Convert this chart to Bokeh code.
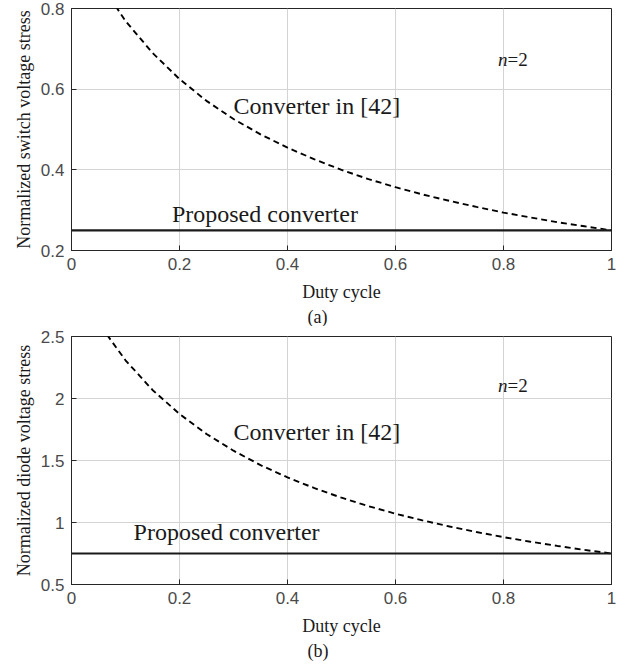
from bokeh.plotting import figure
from bokeh.layouts import column
from bokeh.models import FixedTicker, CustomJSTickFormatter, Title, Range1d
from bokeh.core.properties import value
from bokeh.embed import file_html
from bokeh.resources import INLINE

# ---- data ----
duty = [0.00, 0.05, 0.10, 0.15, 0.20, 0.25, 0.30, 0.35, 0.40, 0.45, 0.50,
        0.55, 0.60, 0.65, 0.70, 0.75, 0.80, 0.85, 0.90, 0.95, 1.00]
conv42_switch = [1.000, 0.870, 0.769, 0.690, 0.625, 0.571, 0.526, 0.488, 0.455, 0.426, 0.400,
                 0.377, 0.357, 0.339, 0.323, 0.308, 0.294, 0.282, 0.270, 0.260, 0.250]
conv42_diode = [3.000, 2.609, 2.308, 2.069, 1.875, 1.714, 1.579, 1.463, 1.364, 1.277, 1.200,
                1.132, 1.071, 1.017, 0.968, 0.923, 0.882, 0.845, 0.811, 0.779, 0.750]
proposed_duty = [0.0, 1.0]
proposed_switch = [0.25, 0.25]
proposed_diode = [0.75, 0.75]
x_ticks = [0, 0.2, 0.4, 0.6, 0.8, 1.0]
switch_ticks = [0.2, 0.4, 0.6, 0.8]
diode_ticks = [0.5, 1.0, 1.5, 2.0, 2.5]
label_conv = "Converter in [42]"
label_prop = "Proposed converter"

SERIF = "Liberation Serif"
SANS = "Liberation Sans"


def make_panel(height, top_border, bottom_border, ylabel, yrange, yticks, conv, prop,
               conv_xy, prop_xy, n_xy, caption):
    p = figure(width=641, height=height, output_backend="svg", toolbar_location=None,
               x_range=Range1d(0, 1), y_range=Range1d(*yrange),
               min_border_left=71, min_border_right=30, min_border_top=top_border,
               min_border_bottom=bottom_border)
    p.background_fill_color = "white"
    p.border_fill_color = "white"
    p.outline_line_color = "#262626"
    p.outline_line_width = 1

    for ax, ticks in ((p.xaxis[0], x_ticks), (p.yaxis[0], yticks)):
        ax.ticker = FixedTicker(ticks=ticks)
        ax.formatter = CustomJSTickFormatter(code="return Number(tick.toFixed(1)).toString();")
        ax.major_tick_in = 5
        ax.major_tick_out = 0
        ax.minor_tick_line_color = None
        ax.axis_line_color = "#262626"
        ax.major_tick_line_color = "#262626"
        ax.major_label_text_font = SANS
        ax.major_label_text_font_size = "17px"
        ax.major_label_text_color = "#4a4a4a"
        ax.major_label_standoff = 7
        ax.axis_label_text_font = SERIF
        ax.axis_label_text_font_size = "18px"
        ax.axis_label_text_font_style = "normal"
        ax.axis_label_text_color = "#1a1a1a"
    p.xaxis.axis_label = "Duty cycle"
    p.xaxis.axis_label_standoff = 9
    p.yaxis.axis_label_standoff = 4
    p.yaxis.axis_label = ylabel

    p.grid.grid_line_color = "#d4d4d4"
    p.grid.grid_line_width = 1

    p.line(duty, conv, line_color="black", line_width=1.9, line_dash="6 4")
    p.line(proposed_duty, prop, line_color="#1a1a1a", line_width=2.2)

    p.text(x=[conv_xy[0]], y=[conv_xy[1]], text=[label_conv], text_font=value(SERIF),
           text_font_size="24px", text_color="#1a1a1a", text_baseline="middle", text_align="left")
    p.text(x=[prop_xy[0]], y=[prop_xy[1]], text=[label_prop], text_font=value(SERIF),
           text_font_size="24px", text_color="#1a1a1a", text_baseline="middle", text_align="left")
    p.text(x=[n_xy[0]], y=[n_xy[1]], text=["n"], text_font=value(SERIF), text_font_style="italic",
           text_font_size="19px", text_color="#1a1a1a", text_baseline="middle", text_align="left")
    p.text(x=[n_xy[0]], y=[n_xy[1]], text=["=2"], text_font=value(SERIF), x_offset=9.5,
           text_font_size="19px", text_color="#1a1a1a", text_baseline="middle", text_align="left")

    cap = Title(text=caption, align="left", offset=236, text_font=SERIF,
                text_font_size="18px", text_font_style="normal", text_color="#1a1a1a",
                standoff=0)
    p.add_layout(cap, "below")
    return p


p1 = make_panel(326, 8, 76, "Normalized switch voltage stress", (0.2, 0.8), switch_ticks,
                conv42_switch, proposed_switch, (0.30, 0.558), (0.186, 0.29), (0.79, 0.674), "(a)")
p2 = make_panel(344, 10, 86, "Normalized diode voltage stress", (0.5, 2.5), diode_ticks,
                conv42_diode, proposed_diode, (0.30, 1.726), (0.115, 0.92), (0.79, 2.105), "(b)")

layout = column(p1, p2, spacing=0)
open("out.html", "w").write(file_html(layout, INLINE))
